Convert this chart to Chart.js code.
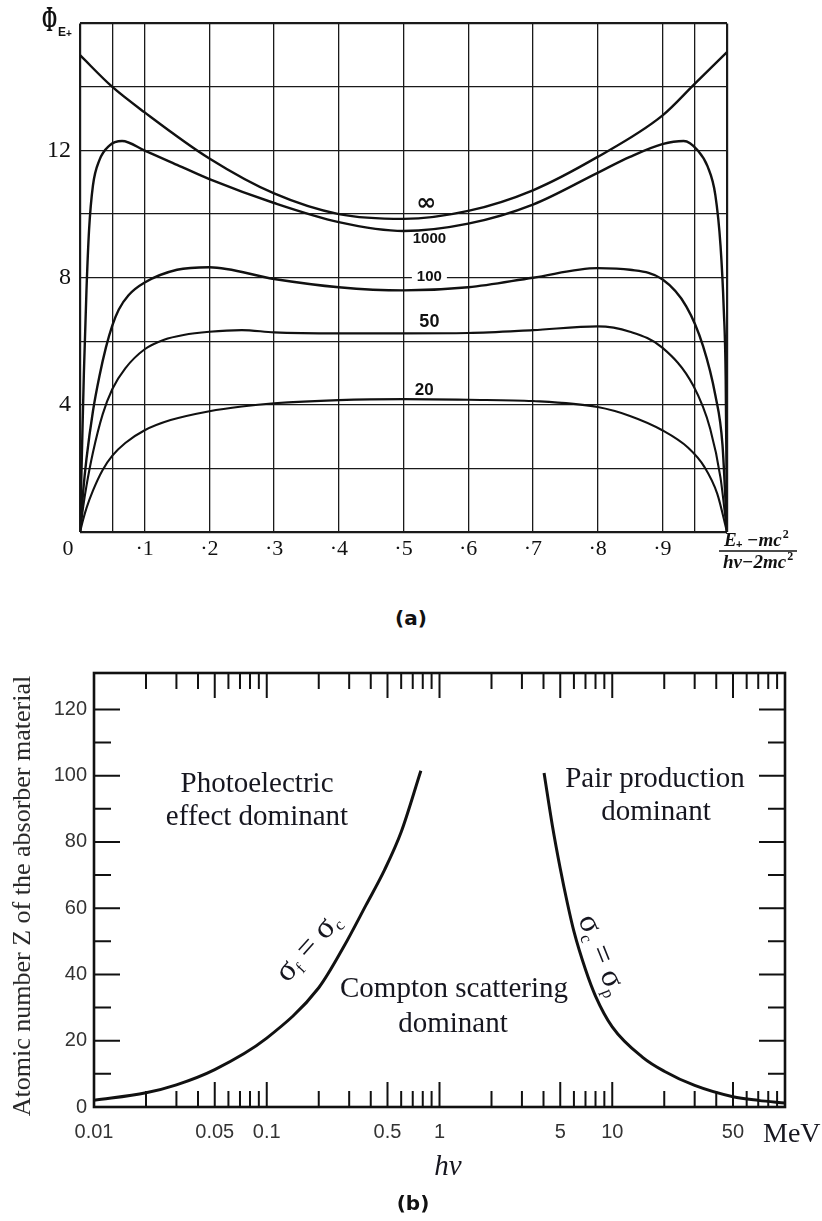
<!DOCTYPE html>
<html>
<head>
<meta charset="utf-8">
<title>Pair production spectra and dominant photon interactions</title>
<script src="https://cdn.jsdelivr.net/npm/chart.js@4.4.0/dist/chart.umd.min.js"></script>
<style>
  body { margin: 0; background: #fff; width: 822px; height: 1221px; position: relative; overflow: hidden; }
  .panel { position: absolute; left: 0; }
  #panelA { top: 0; width: 822px; height: 600px; }
  #panelB { top: 640px; width: 822px; height: 580px; }
  .caption { position: absolute; width: 60px; text-align: center; font: bold 20px "DejaVu Sans", sans-serif; color: #111; }
</style>
</head>
<body>
<div class="panel" id="panelA"><canvas id="chartA" width="822" height="600"></canvas></div>
<div class="caption" style="left:381px; top:606px">(a)</div>
<div class="panel" id="panelB"><canvas id="chartB" width="822" height="580"></canvas></div>
<div class="caption" style="left:383px; top:1191px">(b)</div>

<script>
// ---- panel (a): positron spectrum Φ(E+) for several screening values ----
const fracTickValues = [0, 0.05, 0.1, 0.2, 0.3, 0.4, 0.5, 0.6, 0.7, 0.8, 0.9, 0.95, 1];
const fracTickText = ["", "", "·1", "·2", "·3", "·4", "·5", "·6", "·7", "·8", "·9", "", ""];
const phiTickValues = [0, 2, 4, 6, 8, 10, 12, 14, 16];
const phiTickText = ["", "", "4", "", "8", "", "12", "", ""];

const uInf = [0, 0.05, 0.1, 0.2, 0.3, 0.4, 0.5, 0.6, 0.7, 0.8, 0.9, 0.95, 1];
const phiInf = [15.0, 14.0, 13.2, 11.75, 10.65, 10.0, 9.85, 10.1, 10.75, 11.8, 13.1, 14.1, 15.1];

const u1000 = [0, 0.003, 0.006, 0.01, 0.014, 0.02, 0.03, 0.045, 0.065, 0.1, 0.15, 0.2, 0.3, 0.4, 0.5, 0.6, 0.7, 0.8, 0.85, 0.9, 0.933, 0.955, 0.97, 0.982, 0.99, 0.995, 0.998, 1];
const phi1000 = [0, 2.5, 5.0, 7.6, 9.5, 10.9, 11.7, 12.15, 12.3, 12.0, 11.55, 11.1, 10.35, 9.75, 9.47, 9.7, 10.3, 11.3, 11.8, 12.2, 12.3, 12.0, 11.5, 10.6, 9.0, 7.0, 4.8, 0];

const u100 = [0, 0.005, 0.01, 0.02, 0.03, 0.04, 0.05, 0.06, 0.075, 0.1, 0.15, 0.2, 0.3, 0.4, 0.5, 0.6, 0.7, 0.8, 0.85, 0.9, 0.937, 0.963, 0.982, 0.993, 1];
const phi100 = [0, 1.3, 2.3, 3.8, 4.9, 5.8, 6.5, 7.0, 7.45, 7.85, 8.25, 8.33, 7.96, 7.7, 7.6, 7.7, 8.0, 8.3, 8.25, 7.95, 7.1, 5.85, 4.3, 2.75, 0];

const u50 = [0, 0.005, 0.01, 0.02, 0.035, 0.05, 0.07, 0.1, 0.13, 0.16, 0.2, 0.25, 0.3, 0.4, 0.5, 0.6, 0.7, 0.8, 0.85, 0.9, 0.948, 0.974, 0.99, 1];
const phi50 = [0, 0.8, 1.45, 2.5, 3.7, 4.5, 5.15, 5.75, 6.05, 6.2, 6.3, 6.35, 6.28, 6.25, 6.25, 6.26, 6.35, 6.47, 6.3, 5.8, 4.6, 3.25, 1.7, 0];

const u20 = [0, 0.005, 0.01, 0.02, 0.035, 0.05, 0.07, 0.1, 0.14, 0.2, 0.25, 0.3, 0.4, 0.5, 0.6, 0.7, 0.8, 0.85, 0.9, 0.94, 0.965, 0.985, 1];
const phi20 = [0, 0.4, 0.75, 1.3, 1.95, 2.4, 2.8, 3.2, 3.52, 3.8, 3.95, 4.05, 4.15, 4.18, 4.16, 4.12, 3.93, 3.65, 3.2, 2.65, 2.05, 1.2, 0];

// ---- panel (b): regions where each interaction dominates ----
const photoComptonE = [0.01, 0.02, 0.03, 0.05, 0.1, 0.2, 0.28, 0.376, 0.48, 0.6, 0.78];
const photoComptonZ = [2, 4.3, 6.7, 11.3, 20.8, 36, 48.5, 61, 71.5, 83, 101.5];
const comptonPairE = [4.03, 4.5, 5.0, 5.5, 6.0, 7.0, 8.0, 10, 15, 20, 30, 50, 70, 100];
const comptonPairZ = [100.8, 85, 72, 61.5, 53, 41.5, 33.5, 24.2, 15, 10.8, 6.5, 3.1, 2.0, 1.2];

const energyLabelValues = [0.01, 0.05, 0.1, 0.5, 1, 5, 10, 50];
const energyLabelText = ["0.01", "0.05", "0.1", "0.5", "1", "5", "10", "50"];
const zTickValues = [0, 10, 20, 30, 40, 50, 60, 70, 80, 90, 100, 110, 120];

// log tick positions: 1..9 in every decade from 0.01 up to 100
const energyTickValues = [];
[0.01, 0.1, 1, 10].forEach(d => {
  for (let m = 1; m <= 9; m++) energyTickValues.push(Number((m * d).toPrecision(3)));
});
energyTickValues.push(100);

const toPoints = (xs, ys) => xs.map((x, i) => ({ x: x, y: ys[i] }));
const ink = "#111";

function curve(xs, ys, width) {
  return {
    data: toPoints(xs, ys),
    borderColor: ink,
    borderWidth: width,
    pointRadius: 0,
    fill: false,
    cubicInterpolationMode: "monotone"
  };
}

// names of the curves, the Φ symbol and the fraction under the x axis
const panelATexts = {
  id: "panelATexts",
  afterDatasetsDraw(chart) {
    const { ctx, scales: { x, y } } = chart;
    ctx.save();
    ctx.fillStyle = ink;
    ctx.textAlign = "center";
    ctx.textBaseline = "middle";

    const tags = [
      { text: "∞", u: 0.535, phi: 10.34, font: 'bold 24px "DejaVu Sans"' },
      { text: "1000", u: 0.54, phi: 9.22, font: 'bold 15px "Liberation Sans"' },
      { text: "100", u: 0.54, phi: 8.02, font: 'bold 15px "Liberation Sans"', mask: true },
      { text: "50", u: 0.54, phi: 6.61, font: 'bold 18px "Liberation Sans"' },
      { text: "20", u: 0.532, phi: 4.47, font: 'bold 17px "Liberation Sans"' }
    ];
    tags.forEach(t => {
      const px = x.getPixelForValue(t.u);
      const py = y.getPixelForValue(t.phi);
      ctx.font = t.font;
      if (t.mask) {
        const w = ctx.measureText(t.text).width;
        ctx.fillStyle = "#fff";
        ctx.fillRect(px - w / 2 - 5, py - 4, w + 10, 8);
        ctx.fillStyle = ink;
      }
      ctx.fillText(t.text, px, py);
    });

    // origin label sits below and left of the corner
    ctx.font = '22px "Liberation Serif"';
    ctx.fillText("0", x.left - 12, y.bottom + 17);

    // Φ with subscript E+
    ctx.save();
    ctx.translate(42, 31);
    ctx.scale(0.52, 1);
    ctx.textAlign = "left";
    ctx.textBaseline = "alphabetic";
    ctx.font = 'bold 35px "Liberation Serif"';
    ctx.fillText("Φ", 0, 0);
    ctx.restore();
    ctx.textAlign = "left";
    ctx.textBaseline = "alphabetic";
    ctx.font = 'bold 12px "Liberation Sans"';
    ctx.fillText("E", 58, 36);
    ctx.font = 'bold 10px "Liberation Sans"';
    ctx.fillText("+", 66, 37);

    // x axis quantity: (E+ − mc²)/(hv − 2mc²)
    const left = x.right - 4;
    ctx.font = 'bold italic 19px "Liberation Serif"';
    ctx.fillText("E", left + 1, 546);
    ctx.font = 'bold 11px "Liberation Sans"';
    ctx.fillText("+", left + 13, 548);
    ctx.font = 'bold italic 19px "Liberation Serif"';
    ctx.fillText("−mc", left + 24, 546);
    let w = ctx.measureText("−mc").width;
    ctx.font = 'bold 12px "Liberation Serif"';
    ctx.fillText("2", left + 25 + w, 538);
    ctx.strokeStyle = ink;
    ctx.lineWidth = 1.6;
    ctx.beginPath();
    ctx.moveTo(left - 4, 551);
    ctx.lineTo(left + 74, 551);
    ctx.stroke();
    ctx.font = 'bold italic 19px "Liberation Serif"';
    ctx.fillText("hv−2mc", left, 568);
    w = ctx.measureText("hv−2mc").width;
    ctx.font = 'bold 12px "Liberation Serif"';
    ctx.fillText("2", left + 1 + w, 560);
    ctx.restore();
  }
};

const edgeWidth = (lo, hi) => c => (c.tick && (c.tick.value === lo || c.tick.value === hi)) ? 2.2 : 1.3;

new Chart(document.getElementById("chartA"), {
  type: "line",
  data: {
    datasets: [
      curve(uInf, phiInf, 2.4),
      curve(u1000, phi1000, 2.4),
      curve(u100, phi100, 2.4),
      curve(u50, phi50, 2.1),
      curve(u20, phi20, 2.1)
    ]
  },
  options: {
    animation: false,
    responsive: false,
    devicePixelRatio: 1,
    events: [],
    layout: { padding: { left: 0, top: 17, right: 95, bottom: 0 } },
    plugins: { legend: { display: false }, tooltip: { enabled: false } },
    scales: {
      x: {
        type: "linear",
        min: 0,
        max: 1,
        afterBuildTicks: s => { s.ticks = fracTickValues.map(v => ({ value: v })); },
        afterFit: s => { s.height = 68; },
        grid: { color: "#1a1a1a", lineWidth: edgeWidth(0, 1), drawTicks: false },
        border: { display: false },
        ticks: {
          autoSkip: false,
          maxRotation: 0,
          minRotation: 0,
          padding: 4,
          color: ink,
          font: { family: "Liberation Serif", size: 22 },
          callback: (v, i) => fracTickText[i]
        }
      },
      y: {
        type: "linear",
        min: 0,
        max: 16,
        afterBuildTicks: s => { s.ticks = phiTickValues.map(v => ({ value: v })); },
        afterFit: s => { s.width = 80; },
        grid: { color: "#1a1a1a", lineWidth: edgeWidth(0, 16), drawTicks: false },
        border: { display: false },
        ticks: {
          autoSkip: false,
          padding: 9,
          color: ink,
          font: { family: "Liberation Serif", size: 24 },
          callback: (v, i) => phiTickText[i]
        }
      }
    }
  },
  plugins: [panelATexts]
});

// ---- panel (b) drawing helpers ----
function drawSubscripted(ctx, parts, cx, cy, angle) {
  ctx.save();
  ctx.translate(cx, cy);
  ctx.rotate(angle);
  ctx.textAlign = "left";
  ctx.textBaseline = "alphabetic";
  let total = 0;
  parts.forEach(p => { ctx.font = p.font; p.w = ctx.measureText(p.text).width; total += p.w; });
  let px = -total / 2;
  parts.forEach(p => { ctx.font = p.font; ctx.fillText(p.text, px, p.dy); px += p.w; });
  ctx.restore();
}

// frame with inward ticks, region names and axis titles
const panelBFrame = {
  id: "panelBFrame",
  afterDatasetsDraw(chart) {
    const { ctx, chartArea: a, scales: { x, y } } = chart;
    ctx.save();
    ctx.strokeStyle = ink;
    ctx.lineWidth = 2;
    ctx.beginPath();
    x.ticks.forEach(t => {
      if (t.value <= x.min || t.value >= x.max) return;
      const px = x.getPixelForValue(t.value);
      const lead = Math.round(t.value / Math.pow(10, Math.floor(Math.log10(t.value) + 1e-9)));
      const len = (lead === 1 || lead === 5) ? 25 : 16;
      ctx.moveTo(px, a.bottom); ctx.lineTo(px, a.bottom - len);
      ctx.moveTo(px, a.top); ctx.lineTo(px, a.top + len);
    });
    y.ticks.forEach(t => {
      if (t.value <= 0) return;
      const py = y.getPixelForValue(t.value);
      const len = t.value % 20 === 0 ? 26 : 17;
      ctx.moveTo(a.left, py); ctx.lineTo(a.left + len, py);
      ctx.moveTo(a.right, py); ctx.lineTo(a.right - len, py);
    });
    ctx.stroke();
    ctx.lineWidth = 2.6;
    ctx.strokeRect(a.left, a.top, a.right - a.left, a.bottom - a.top);

    const text = "#16161f";
    ctx.fillStyle = text;
    ctx.textAlign = "center";
    ctx.textBaseline = "alphabetic";
    ctx.font = '29px "Liberation Serif"';
    ctx.fillText("Photoelectric", 257, 152);
    ctx.fillText("effect dominant", 257, 185);
    ctx.fillText("Pair production", 655, 147);
    ctx.fillText("dominant", 656, 180);
    ctx.fillText("Compton scattering", 454, 357);
    ctx.fillText("dominant", 453, 392);

    ctx.font = 'italic 29px "Liberation Serif"';
    ctx.fillText("hv", 448, 535);

    // energy unit to the right of the last decade
    ctx.textAlign = "left";
    ctx.font = '28px "Liberation Serif"';
    ctx.fillText("MeV", a.right - 22, a.bottom + 35);
    ctx.textAlign = "center";

    ctx.save();
    ctx.translate(23, 256);
    ctx.rotate(-Math.PI / 2);
    ctx.textBaseline = "middle";
    ctx.fillStyle = "#2a2a2a";
    ctx.font = '26px "Liberation Serif"';
    ctx.fillText("Atomic number Z of the absorber material", 0, 0);
    ctx.restore();

    const big = '32px "Liberation Serif"';
    const small = '17px "Liberation Serif"';
    drawSubscripted(ctx, [
      { text: "σ", font: big, dy: 9 },
      { text: "f", font: small, dy: 14 },
      { text: " = ", font: big, dy: 9 },
      { text: "σ", font: big, dy: 9 },
      { text: "c", font: small, dy: 14 }
    ], 308, 307, -0.84);
    drawSubscripted(ctx, [
      { text: "σ", font: big, dy: 9 },
      { text: "c", font: small, dy: 14 },
      { text: " = ", font: big, dy: 9 },
      { text: "σ", font: big, dy: 9 },
      { text: "p", font: small, dy: 14 }
    ], 602, 315, 1.19);
    ctx.restore();
  }
};

new Chart(document.getElementById("chartB"), {
  type: "line",
  data: {
    datasets: [
      curve(photoComptonE, photoComptonZ, 3),
      curve(comptonPairE, comptonPairZ, 3)
    ]
  },
  options: {
    animation: false,
    responsive: false,
    devicePixelRatio: 1,
    events: [],
    layout: { padding: { left: 0, top: 33, right: 37, bottom: 0 } },
    plugins: { legend: { display: false }, tooltip: { enabled: false } },
    scales: {
      x: {
        type: "logarithmic",
        min: 0.01,
        max: 100,
        afterBuildTicks: s => { s.ticks = energyTickValues.map(v => ({ value: v })); },
        afterFit: s => { s.height = 113; },
        grid: { display: false, drawTicks: false },
        border: { display: false },
        ticks: {
          autoSkip: false,
          maxRotation: 0,
          minRotation: 0,
          padding: 13,
          color: "#333",
          font: { family: "Liberation Sans", size: 20 },
          callback: v => {
            const i = energyLabelValues.indexOf(v);
            return i < 0 ? "" : energyLabelText[i];
          }
        }
      },
      y: {
        type: "linear",
        min: 0,
        max: 131,
        afterBuildTicks: s => { s.ticks = zTickValues.map(v => ({ value: v })); },
        afterFit: s => { s.width = 94; },
        grid: { display: false, drawTicks: false },
        border: { display: false },
        ticks: {
          autoSkip: false,
          padding: 7,
          color: "#333",
          font: { family: "Liberation Sans", size: 20 },
          callback: v => (v % 20 === 0 ? String(v) : "")
        }
      }
    }
  },
  plugins: [panelBFrame]
});
</script>
</body>
</html>
